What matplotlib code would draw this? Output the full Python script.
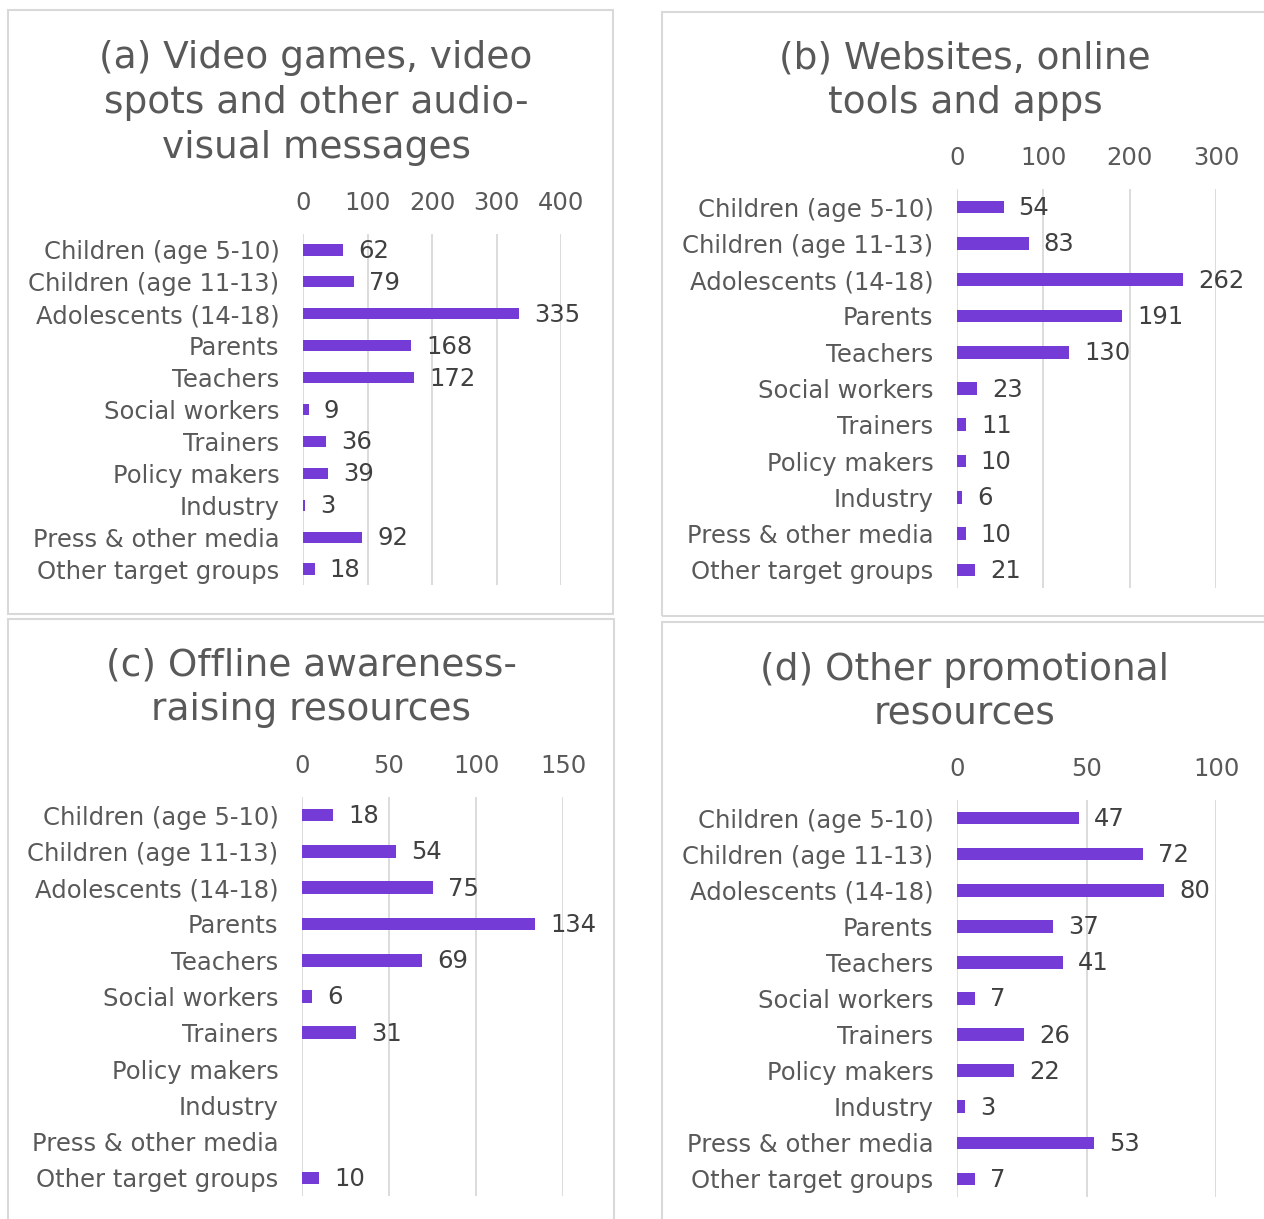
import numpy as np
import matplotlib
matplotlib.use("Agg")
import matplotlib.pyplot as plt
from matplotlib.patches import Rectangle
from matplotlib.transforms import offset_copy

plt.rcParams['font.family'] = ['DejaVu Sans']

categories = [
    "Children (age 5-10)", "Children (age 11-13)", "Adolescents (14-18)",
    "Parents", "Teachers", "Social workers", "Trainers", "Policy makers",
    "Industry", "Press & other media", "Other target groups",
]

values_a = [62, 79, 335, 168, 172, 9, 36, 39, 3, 92, 18]
values_b = [54, 83, 262, 191, 130, 23, 11, 10, 6, 10, 21]
values_c = [18, 54, 75, 134, 69, 6, 31, None, None, None, 10]
values_d = [47, 72, 80, 37, 41, 7, 26, 22, 3, 53, 7]

titles = [
    "(a) Video games, video\nspots and other audio-\nvisual messages",
    "(b) Websites, online\ntools and apps",
    "(c) Offline awareness-\nraising resources",
    "(d) Other promotional\nresources",
]
ticks = [[0, 100, 200, 300, 400], [0, 100, 200, 300], [0, 50, 100, 150], [0, 50, 100]]

W, H = 1264, 1219
BAR = "#743BD6"
TXT = "#595959"
LBL = "#404040"
GRID = "#D9D9D9"
FS = 17.5

fig = plt.figure(figsize=(W / 100, H / 100), dpi=100)


def fx(px):
    return px / W


def fy(py):
    return 1 - py / H


# panel frames: (left, top, right, bottom) in pixels
frames = [(8, 10, 613, 614), (662, 12, 1270, 616), (8, 619, 614, 1225), (662, 622, 1270, 1225)]
for l, t, r, b in frames:
    fig.patches.append(Rectangle((fx(l), fy(b)), fx(r - l), (b - t) / H,
                                 transform=fig.transFigure, fill=False,
                                 edgecolor=GRID, linewidth=1.5, zorder=0))

# plot areas: (left, top, right, bottom) in pixels
areas = [(303, 234, 561, 585), (957, 189, 1216, 588), (302, 797, 563, 1196), (957, 800, 1216, 1197)]
title_pos = [(316, 103), (965, 81), (311, 688), (965, 692)]

for i, (vals, title, tk, area) in enumerate(zip([values_a, values_b, values_c, values_d],
                                               titles, ticks, areas)):
    l, t, r, b = area
    ax = fig.add_axes([fx(l), fy(b), fx(r - l), (b - t) / H])
    y = np.arange(len(categories))
    v = np.array([np.nan if x is None else x for x in vals], dtype=float)
    ax.barh(y, np.nan_to_num(v), height=0.35, color=BAR, zorder=3)
    ax.set_xlim(tk[0], tk[-1])
    ax.set_ylim(len(categories) - 0.5, -0.5)
    ax.set_xticks(tk)
    ax.set_yticks(y)
    ax.set_yticklabels(categories)
    ax.xaxis.tick_top()
    ax.tick_params(axis="x", length=0, pad=13.5, labelsize=FS, labelcolor=TXT)
    ax.tick_params(axis="y", length=0, pad=17, labelsize=FS, labelcolor=TXT)
    for s in ax.spines.values():
        s.set_visible(False)
    ax.grid(axis="x", color=GRID, linewidth=1.3, zorder=0)
    ax.set_axisbelow(True)
    ax.patch.set_alpha(0)
    trans = offset_copy(ax.transData, fig=fig, x=15, y=-1, units="dots")
    for yi, val in zip(y, vals):
        if val is None:
            continue
        ax.text(val, yi, str(val), transform=trans, ha="left", va="center",
                fontsize=FS, color=LBL)
    tx, ty = title_pos[i]
    fig.text(fx(tx), fy(ty), title, ha="center", va="center", fontsize=27,
             color=TXT, linespacing=1.31)

fig.savefig("out.png", dpi=100, facecolor="white")
